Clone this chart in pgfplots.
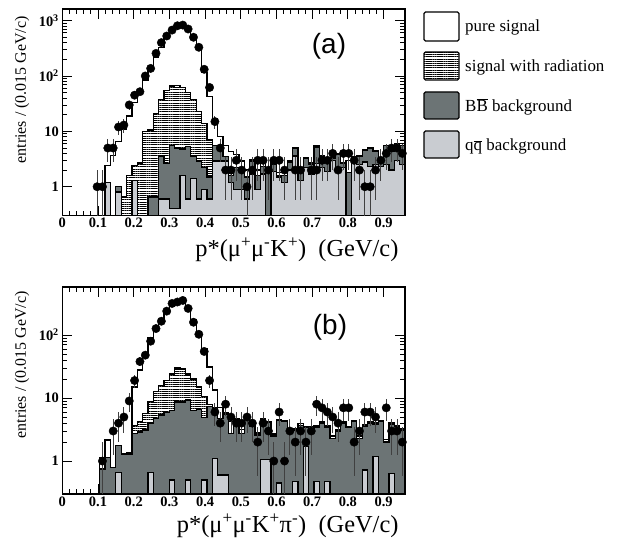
\documentclass[border=0pt]{standalone}
\usepackage{fontspec}
\setmainfont{Liberation Serif}
\newfontfamily\helv{Liberation Sans}
\usepackage{pgfplots}
\usepackage{pgfplotstable}
\pgfplotsset{compat=1.18}
\usetikzlibrary{patterns.meta}
\definecolor{bbcol}{RGB}{108,116,117}
\definecolor{qqcol}{RGB}{201,204,209}

% panel (a): cumulative stacked heights per bin (left edge x)
\pgfplotstableread{
x qq bb rad tot
0.000 0.01 0.01 0.01 0.01
0.015 0.01 0.01 0.01 0.01
0.030 0.01 0.01 0.01 0.01
0.045 0.01 0.01 0.01 0.01
0.060 0.01 0.01 0.01 0.01
0.075 0.01 0.01 0.01 0.01
0.090 0.01 0.01 0.01 0.01
0.105 0.01 0.01 0.01 0.01
0.120 1.2 1.2 1.2 2.4
0.135 0.01 0.01 0.01 3.7
0.150 0.8 1.0 1.0 6.5
0.165 0.01 0.01 0.65 11
0.180 0.01 0.01 1.6 19
0.195 1.3 1.3 2.4 33
0.210 0.01 0.01 2.7 52
0.225 0.01 0.01 10 85
0.240 0.01 0.65 10.6 135
0.255 0.01 0.65 21 220
0.270 0.6 3.6 38 330
0.285 0.6 2.6 54 480
0.300 0.4 5.5 66 640
0.315 0.4 5.0 68 830
0.330 1.6 4.8 62 830
0.345 0.6 5.3 51 640
0.360 1.4 3.6 38 460
0.375 0.6 2.9 23 300
0.390 0.9 2.2 14 115
0.405 0.6 1.5 7 42
0.420 2.9 5.5 5.5 17
0.435 2.9 5.0 5.0 8
0.450 2.9 3.5 3.5 5.5
0.465 1.2 1.6 1.8 4.3
0.480 0.9 2.2 2.2 3.8
0.495 0.9 2.2 2.2 2.9
0.510 0.6 1.5 1.5 2.0
0.525 1.7 2.9 2.9 3.1
0.540 0.9 1.6 1.6 2.0
0.555 1.7 2.3 2.3 2.9
0.570 0.01 1.8 1.8 2.0
0.585 1.9 2.5 2.5 2.7
0.600 1.5 1.6 1.6 1.8
0.615 1.2 1.6 1.6 1.8
0.630 2.0 2.8 2.8 2.9
0.645 3.6 4.9 4.9 5.0
0.660 1.3 1.9 1.9 2.0
0.675 2.2 3.2 3.2 3.3
0.690 1.7 2.5 2.5 2.7
0.705 2.6 5.2 5.2 5.5
0.720 2.2 3.5 3.5 3.7
0.735 1.9 3.1 3.1 3.2
0.750 3.0 3.3 3.3 3.4
0.765 2.2 3.8 3.8 3.9
0.780 2.2 2.6 2.6 2.7
0.795 0.01 1.8 1.8 3.0
0.810 2.8 3.4 3.4 3.5
0.825 2.5 3.5 3.5 3.6
0.840 2.8 4.5 4.5 4.6
0.855 2.3 5.0 5.0 5.1
0.870 2.5 4.3 4.3 4.4
0.885 2.3 3.2 3.2 3.3
0.900 2.5 5.5 5.5 5.6
0.915 2.0 4.3 4.3 4.4
0.930 3.0 6.0 6.0 6.1
0.945 2.5 5.5 5.5 5.6
0.960 2.5 5.5 5.5 5.6
}\histA

\pgfplotstableread{
x n
0.0975 1
0.1125 1
0.1275 5
0.1425 5
0.1575 12
0.1725 13
0.1875 30
0.2025 45
0.2175 52
0.2325 100
0.2475 137
0.2625 256
0.2775 400
0.2925 527
0.3075 674
0.3225 807
0.3375 830
0.3525 705
0.3675 500
0.3825 330
0.3975 132
0.4125 62
0.4275 15
0.4425 5
0.4575 2
0.4725 2
0.4875 3
0.5025 2
0.5175 1
0.5325 2
0.5475 3
0.5625 3
0.5775 2
0.5925 3
0.6075 3
0.6225 2
0.6525 2
0.6675 2
0.6975 2
0.7125 2
0.7275 3
0.7425 3
0.7575 4
0.7725 2
0.7875 4
0.8025 4
0.8175 3
0.8325 2
0.8475 1
0.8625 1
0.8775 2
0.8925 3
0.9075 4
0.9225 5
0.9375 5
0.9525 4
}\ptsA

% panel (b)
\pgfplotstableread{
x qq bb rad tot
0.000 0.01 0.01 0.01 0.01
0.015 0.01 0.01 0.01 0.01
0.030 0.01 0.01 0.01 0.01
0.045 0.01 0.01 0.01 0.01
0.060 0.01 0.01 0.01 0.01
0.075 0.01 0.01 0.01 0.01
0.090 0.01 0.01 0.01 0.01
0.105 0.01 0.75 0.75 1.15
0.120 0.01 1.15 1.15 2.15
0.135 0.01 0.8 0.8 0.8
0.150 0.65 1.75 1.75 1.75
0.165 0.01 1.3 1.3 1.3
0.180 0.01 1.3 1.3 1.35
0.195 0.01 2.75 3.7 15
0.210 0.01 2.9 4.2 28
0.225 0.01 3.1 5.7 52
0.240 0.65 4.0 8.8 90
0.255 0.01 4.8 12.6 129
0.270 0.01 5.4 16 160
0.285 0.01 5.9 19 235
0.300 0.5 6.4 24 290
0.315 0.01 8.7 30 335
0.330 0.01 8.7 29 355
0.345 0.5 9.3 24 280
0.360 0.01 6.4 20 173
0.375 0.01 6.6 15 113
0.390 0.5 4.9 10.5 61
0.405 0.01 7.3 8 31
0.420 1.1 6.6 7 13.4
0.435 0.6 4.8 4.8 7
0.450 0.6 5.6 5.6 5.8
0.465 0.01 2.75 2.75 4.2
0.480 0.01 4.6 4.6 4.8
0.495 0.01 2.75 2.75 3.2
0.510 0.01 4.6 4.6 4.8
0.525 0.01 3.5 3.5 3.7
0.540 0.01 2.6 2.6 2.8
0.555 1.05 4.6 4.6 4.8
0.570 1.05 4.1 4.1 4.3
0.585 0.01 2.5 2.5 2.7
0.600 0.45 4.4 4.4 4.6
0.615 0.01 4.2 4.2 4.4
0.630 0.01 3.1 3.1 3.3
0.645 0.47 3.1 3.1 3.3
0.660 0.01 3.7 3.7 3.9
0.675 1.7 3.4 3.4 3.5
0.690 0.01 3.3 3.3 3.5
0.705 0.47 3.4 3.4 3.6
0.720 0.01 4.0 4.0 4.2
0.735 0.47 3.4 3.4 3.6
0.750 0.01 2.3 2.3 2.5
0.765 0.01 3.0 3.0 3.2
0.780 0.01 4.0 4.0 4.2
0.795 0.01 3.4 3.4 3.5
0.810 0.01 4.2 4.2 4.4
0.825 0.01 2.3 2.3 2.5
0.840 0.72 3.6 3.6 3.8
0.855 0.01 4.0 4.0 4.2
0.870 1.17 3.8 3.8 4.0
0.885 0.01 4.2 4.2 4.4
0.900 0.01 2.0 2.0 2.2
0.915 0.64 3.8 3.8 4.0
0.930 0.01 3.5 3.5 3.6
0.945 0.01 3.1 3.1 3.3
0.960 0.01 3.1 3.1 3.3
}\histB

\pgfplotstableread{
x n
0.1125 1
0.1425 3
0.1575 4
0.1725 5
0.1875 9
0.2025 19
0.2175 38
0.2325 48
0.2475 80
0.2625 127
0.2775 166
0.2925 240
0.3075 318
0.3225 335
0.3375 355
0.3525 265
0.3675 160
0.3825 103
0.3975 55
0.4125 19
0.4275 6
0.4425 4
0.4575 8
0.4725 5
0.4875 4
0.5025 4
0.5175 5
0.5325 4
0.5475 2
0.5625 4
0.5775 3
0.5925 1
0.6075 6
0.6225 1
0.6375 3
0.6525 2
0.6675 3
0.6825 2
0.6975 3
0.7125 8
0.7275 7
0.7425 6
0.7575 5
0.7725 4
0.7875 7
0.8025 7
0.8175 2
0.8325 3
0.8475 6
0.8625 6
0.8775 5
0.9075 7
0.9225 3
0.9375 3
0.9525 2
}\ptsB

\pgfplotsset{
 /pgfplots/myhist/.style={const plot, draw=black, line width=1.3bp, mark=none},
 /pgfplots/mypts/.style={only marks, mark=*, mark size=4.2bp, black,
   error bars/y dir=both, error bars/y explicit, error bars/error mark=none,
   error bars/error bar style={line width=0.9bp, black!75}},
}

\begin{document}
\begin{tikzpicture}
\useasboundingbox (0,0) rectangle (618bp,543bp);

\begin{axis}[at={(62.3bp,327.3bp)}, anchor=south west,
  scale only axis, width=342.7bp, height=206.7bp,
  ymode=log, log origin y=infty,
  xmin=0, xmax=0.96, ymin=0.3, ymax=1620,
  xtick={0,0.1,0.2,0.3,0.4,0.5,0.6,0.7,0.8,0.9},
  xticklabels={0,0.1,0.2,0.3,0.4,0.5,0.6,0.7,0.8,0.9},
  minor x tick num=4,
  tick align=inside,
  major tick length=10bp, minor tick length=5bp,
  axis line style={line width=1.1bp},
  every tick/.append style={line width=0.8bp, black},
  tick label style={font=\bfseries\fontsize{14.5}{14.5}\selectfont},
  xticklabel style={yshift=1bp},
  /pgf/number format/assume math mode=true,
  ytick={1,10,100,1000}, yticklabels={1,10,10\textsuperscript{2},10\textsuperscript{3}}]
\addplot[myhist, fill=white] table[x=x,y=tot]{\histA} \closedcycle;
\addplot[myhist, pattern={Lines[angle=0,distance=2.2bp,line width=0.6bp]}] table[x=x,y=rad]{\histA} \closedcycle;
\addplot[myhist, fill=bbcol] table[x=x,y=bb]{\histA} \closedcycle;
\addplot[myhist, fill=qqcol] table[x=x,y=qq]{\histA} \closedcycle;
\addplot[mypts] table[x=x,y=n,y error plus expr={sqrt(\thisrow{n})},y error minus expr={min(sqrt(\thisrow{n}),\thisrow{n}-0.02)}]{\ptsA};
\end{axis}

\begin{axis}[at={(62.3bp,49bp)}, anchor=south west,
  scale only axis, width=342.7bp, height=207bp,
  ymode=log, log origin y=infty,
  xmin=0, xmax=0.96, ymin=0.3, ymax=580,
  xtick={0,0.1,0.2,0.3,0.4,0.5,0.6,0.7,0.8,0.9},
  xticklabels={0,0.1,0.2,0.3,0.4,0.5,0.6,0.7,0.8,0.9},
  minor x tick num=4,
  tick align=inside,
  major tick length=10bp, minor tick length=5bp,
  axis line style={line width=1.1bp},
  every tick/.append style={line width=0.8bp, black},
  tick label style={font=\bfseries\fontsize{14.5}{14.5}\selectfont},
  xticklabel style={yshift=1bp},
  /pgf/number format/assume math mode=true,
  ytick={1,10,100}, yticklabels={1,10,10\textsuperscript{2}}]
\addplot[myhist, fill=white] table[x=x,y=tot]{\histB} \closedcycle;
\addplot[myhist, pattern={Lines[angle=0,distance=2.2bp,line width=0.6bp]}] table[x=x,y=rad]{\histB} \closedcycle;
\addplot[myhist, fill=bbcol] table[x=x,y=bb]{\histB} \closedcycle;
\addplot[myhist, fill=qqcol] table[x=x,y=qq]{\histB} \closedcycle;
\addplot[mypts] table[x=x,y=n,y error plus expr={sqrt(\thisrow{n})},y error minus expr={min(sqrt(\thisrow{n}),\thisrow{n}-0.02)}]{\ptsB};
\end{axis}

% panel tags
\node[font=\helv\fontsize{28}{28}\selectfont] at (329bp,497bp) {(a)};
\node[font=\helv\fontsize{28}{28}\selectfont] at (330bp,216bp) {(b)};

% axis titles
\node[rotate=90, anchor=east, font=\fontsize{16}{16}\selectfont] at (22bp,530bp) {entries / (0.015 GeV/c)};
\node[rotate=90, anchor=east, font=\fontsize{16}{16}\selectfont] at (22bp,255bp) {entries / (0.015 GeV/c)};
\node[anchor=east, font=\fontsize{24.5}{24.5}\selectfont] at (402bp,293bp) {p*(μ\textsuperscript{+}μ\textsuperscript{-}K\textsuperscript{+})\ \ (GeV/c)};
\node[anchor=east, font=\fontsize{24.5}{24.5}\selectfont] at (402bp,17.5bp) {p*(μ\textsuperscript{+}μ\textsuperscript{-}K\textsuperscript{+}π\textsuperscript{-})\ \ (GeV/c)};

% legend
\draw[line width=1.2bp, rounded corners=1.5bp, fill=white] (424bp,502bp) rectangle (459bp,531bp);
\fill[pattern={Lines[angle=0,distance=2.2bp,line width=0.6bp]}] (424bp,463bp) rectangle (459bp,491bp);
\draw[line width=1.2bp, rounded corners=1.5bp] (424bp,463bp) rectangle (459bp,491bp);
\draw[line width=1.2bp, rounded corners=1.5bp, fill=bbcol] (424bp,424bp) rectangle (459bp,451bp);
\draw[line width=1.2bp, rounded corners=1.5bp, fill=qqcol] (424bp,385bp) rectangle (459bp,412bp);
\begin{scope}[every node/.style={anchor=base west, font=\fontsize{17}{17}\selectfont, inner sep=0pt}]
\node at (465bp,511.2bp) {pure signal};
\node at (465bp,471.2bp) {signal with radiation};
\node at (465bp,431.8bp) {B\ensuremath{\overline{\mbox{B}}} background};
\node at (465bp,392.5bp) {q\ensuremath{\overline{\mbox{q}}} background};
\end{scope}
\end{tikzpicture}
\end{document}
